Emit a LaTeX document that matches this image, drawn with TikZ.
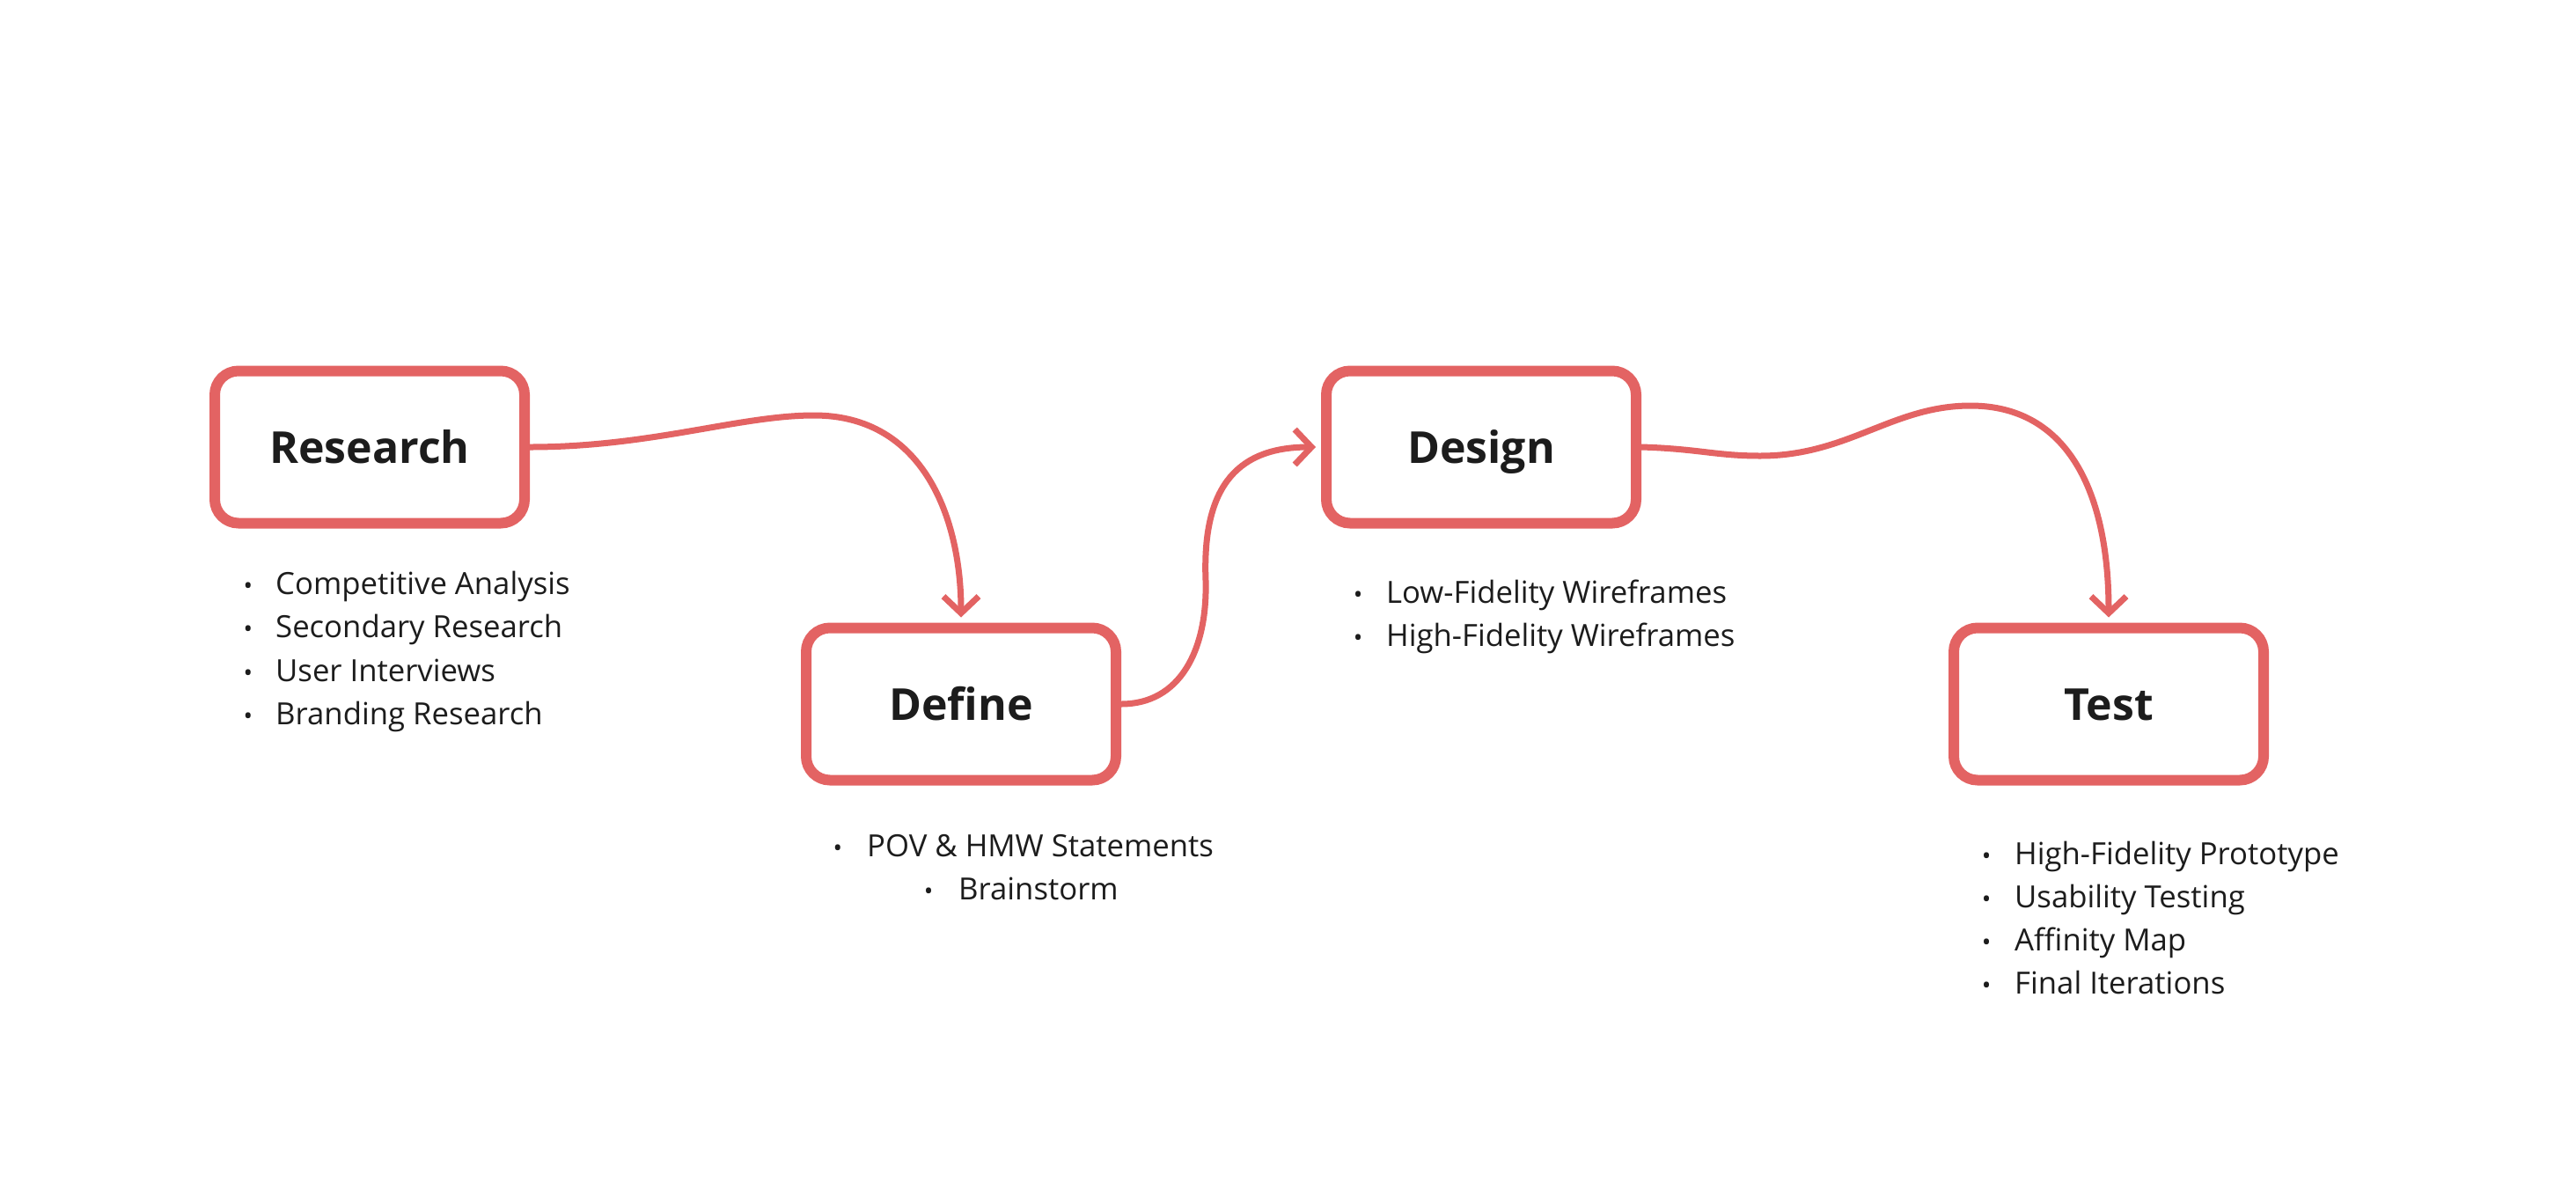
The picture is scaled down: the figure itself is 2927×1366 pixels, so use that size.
\documentclass[tikz,border=0pt]{standalone}
\usepackage{fontspec}
\setmainfont{Open Sans}
\usetikzlibrary{arrows.meta,calc}
\definecolor{accent}{RGB}{227,99,99}
\definecolor{ink}{RGB}{28,28,28}
\begin{document}
\begin{tikzpicture}[x=1pt,y=-1pt,
  stage/.style={draw=accent, line width=12pt, rounded corners=27pt,
    minimum width=352pt, minimum height=173pt, fill=white, inner sep=0pt,
    text=ink, text height=36pt, text depth=0pt,
    font=\fontsize{50}{60}\selectfont\bfseries},
  item/.style={anchor=base west, inner sep=0pt, text=ink,
    font=\fontsize{34.7}{42}\selectfont},
  dot/.style={anchor=base, inner sep=0pt, text=ink,
    font=\fontsize{28}{30}\selectfont},
  flow/.style={draw=accent, line width=7pt,
    -{Straight Barb[length=19pt,width=40pt]}}
]
\fill[white] (0,0) rectangle (2927,1366);
\useasboundingbox (0,0) rectangle (2927,1366);

% stages
\node[stage] (Research) at (420,508) {Research};
\node[stage] (Define)   at (1092,800) {Define};
\node[stage] (Design)   at (1683,508) {Design};
\node[stage] (Test)     at (2396,800) {Test};

% research list
\node[dot] (rb1) at (282,675) {•}; \node[item] (r1) at (313,675) {Competitive Analysis};
\node[dot] (rb2) at (282,724) {•}; \node[item] (r2) at (313,724) {Secondary Research};
\node[dot] (rb3) at (282,774) {•}; \node[item] (r3) at (313,774) {User Interviews};
\node[dot] (rb4) at (282,823) {•}; \node[item] (r4) at (313,823) {Branding Research};

% define list
\node[dot] (fb1) at (952,973) {•};  \node[item] (f1) at (985,973) {POV \& HMW Statements};
\node[dot] (fb2) at (1055,1022) {•}; \node[item] (f2) at (1089,1022) {Brainstorm};

% design list
\node[dot] (db1) at (1543,685) {•}; \node[item] (d1) at (1575,685) {Low-Fidelity Wireframes};
\node[dot] (db2) at (1543,734) {•}; \node[item] (d2) at (1575,734) {High-Fidelity Wireframes};

% test list
\node[dot] (tb1) at (2257,982) {•};  \node[item] (t1) at (2289,982) {High-Fidelity Prototype};
\node[dot] (tb2) at (2257,1031) {•}; \node[item] (t2) at (2289,1031) {Usability Testing};
\node[dot] (tb3) at (2257,1080) {•}; \node[item] (t3) at (2289,1080) {Affinity Map};
\node[dot] (tb4) at (2257,1129) {•}; \node[item] (t4) at (2289,1129) {Final Iterations};

% connectors
\draw[flow] (Research.east) .. controls (740,508) and (840,472) .. (925,472)
  .. controls (1050,472) and (1092,590) .. ([yshift=6pt]Define.north);
\draw[flow] (Define.east) .. controls (1340,800) and (1372,740) .. (1370,660)
  .. controls (1366,560) and (1400,508) .. ([xshift=-6pt]Design.west);
\draw[flow] (Design.east) .. controls (1930,510) and (1950,518) .. (2000,518)
  .. controls (2100,518) and (2150,461) .. (2239,461)
  .. controls (2350,461) and (2396,560) .. ([yshift=6pt]Test.north);
\end{tikzpicture}
\end{document}
